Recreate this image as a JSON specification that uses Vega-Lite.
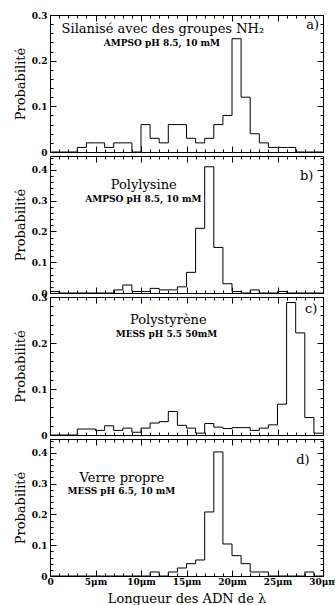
{
  "$schema": "https://vega.github.io/schema/vega-lite/v6.json",
  "padding": {"left": 13, "top": 10, "right": 0, "bottom": 0},
  "bounds": "flush",
  "spacing": 4,
  "datasets": {
    "a": [
      {"lo": 0, "hi": 1, "p": 0}, {"lo": 1, "hi": 2, "p": 0}, {"lo": 2, "hi": 3, "p": 0},
      {"lo": 3, "hi": 4, "p": 0.01}, {"lo": 4, "hi": 5, "p": 0.02}, {"lo": 5, "hi": 6, "p": 0.02},
      {"lo": 6, "hi": 7, "p": 0.01}, {"lo": 7, "hi": 8, "p": 0.02}, {"lo": 8, "hi": 9, "p": 0.02},
      {"lo": 9, "hi": 10, "p": 0}, {"lo": 10, "hi": 11, "p": 0.06}, {"lo": 11, "hi": 12, "p": 0.03},
      {"lo": 12, "hi": 13, "p": 0.02}, {"lo": 13, "hi": 14, "p": 0.06}, {"lo": 14, "hi": 15, "p": 0.06},
      {"lo": 15, "hi": 16, "p": 0.03}, {"lo": 16, "hi": 17, "p": 0.02}, {"lo": 17, "hi": 18, "p": 0.03},
      {"lo": 18, "hi": 19, "p": 0.06}, {"lo": 19, "hi": 20, "p": 0.08}, {"lo": 20, "hi": 21, "p": 0.248},
      {"lo": 21, "hi": 22, "p": 0.12}, {"lo": 22, "hi": 23, "p": 0.04}, {"lo": 23, "hi": 24, "p": 0.02},
      {"lo": 24, "hi": 25, "p": 0.01}, {"lo": 25, "hi": 26, "p": 0.01}, {"lo": 26, "hi": 27, "p": 0.01},
      {"lo": 27, "hi": 28, "p": 0}, {"lo": 28, "hi": 29, "p": 0}, {"lo": 29, "hi": 30, "p": 0}
    ],
    "b": [
      {"lo": 0, "hi": 1, "p": 0.005}, {"lo": 1, "hi": 2, "p": 0}, {"lo": 2, "hi": 3, "p": 0},
      {"lo": 3, "hi": 4, "p": 0}, {"lo": 4, "hi": 5, "p": 0}, {"lo": 5, "hi": 6, "p": 0},
      {"lo": 6, "hi": 7, "p": 0}, {"lo": 7, "hi": 8, "p": 0.01}, {"lo": 8, "hi": 9, "p": 0.026},
      {"lo": 9, "hi": 10, "p": 0.005}, {"lo": 10, "hi": 11, "p": 0.005}, {"lo": 11, "hi": 12, "p": 0.015},
      {"lo": 12, "hi": 13, "p": 0.01}, {"lo": 13, "hi": 14, "p": 0.01}, {"lo": 14, "hi": 15, "p": 0.02},
      {"lo": 15, "hi": 16, "p": 0.067}, {"lo": 16, "hi": 17, "p": 0.21}, {"lo": 17, "hi": 18, "p": 0.41},
      {"lo": 18, "hi": 19, "p": 0.148}, {"lo": 19, "hi": 20, "p": 0.03}, {"lo": 20, "hi": 21, "p": 0.005},
      {"lo": 21, "hi": 22, "p": 0}, {"lo": 22, "hi": 23, "p": 0.01}, {"lo": 23, "hi": 24, "p": 0},
      {"lo": 24, "hi": 25, "p": 0}, {"lo": 25, "hi": 26, "p": 0.005}, {"lo": 26, "hi": 27, "p": 0},
      {"lo": 27, "hi": 28, "p": 0}, {"lo": 28, "hi": 29, "p": 0}, {"lo": 29, "hi": 30, "p": 0}
    ],
    "c": [
      {"lo": 0, "hi": 1, "p": 0}, {"lo": 1, "hi": 2, "p": 0}, {"lo": 2, "hi": 3, "p": 0},
      {"lo": 3, "hi": 4, "p": 0.013}, {"lo": 4, "hi": 5, "p": 0.013}, {"lo": 5, "hi": 6, "p": 0.01},
      {"lo": 6, "hi": 7, "p": 0.02}, {"lo": 7, "hi": 8, "p": 0.01}, {"lo": 8, "hi": 9, "p": 0.015},
      {"lo": 9, "hi": 10, "p": 0.006}, {"lo": 10, "hi": 11, "p": 0.015}, {"lo": 11, "hi": 12, "p": 0.026},
      {"lo": 12, "hi": 13, "p": 0.029}, {"lo": 13, "hi": 14, "p": 0.051}, {"lo": 14, "hi": 15, "p": 0.021},
      {"lo": 15, "hi": 16, "p": 0.015}, {"lo": 16, "hi": 17, "p": 0.004}, {"lo": 17, "hi": 18, "p": 0.025},
      {"lo": 18, "hi": 19, "p": 0.017}, {"lo": 19, "hi": 20, "p": 0.014}, {"lo": 20, "hi": 21, "p": 0.016},
      {"lo": 21, "hi": 22, "p": 0.016}, {"lo": 22, "hi": 23, "p": 0.01}, {"lo": 23, "hi": 24, "p": 0.015},
      {"lo": 24, "hi": 25, "p": 0.022}, {"lo": 25, "hi": 26, "p": 0.067}, {"lo": 26, "hi": 27, "p": 0.288},
      {"lo": 27, "hi": 28, "p": 0.222}, {"lo": 28, "hi": 29, "p": 0.038}, {"lo": 29, "hi": 30, "p": 0.004}
    ],
    "d": [
      {"lo": 0, "hi": 1, "p": 0}, {"lo": 1, "hi": 2, "p": 0}, {"lo": 2, "hi": 3, "p": 0},
      {"lo": 3, "hi": 4, "p": 0}, {"lo": 4, "hi": 5, "p": 0}, {"lo": 5, "hi": 6, "p": 0},
      {"lo": 6, "hi": 7, "p": 0}, {"lo": 7, "hi": 8, "p": 0}, {"lo": 8, "hi": 9, "p": 0},
      {"lo": 9, "hi": 10, "p": 0}, {"lo": 10, "hi": 11, "p": 0}, {"lo": 11, "hi": 12, "p": 0.013},
      {"lo": 12, "hi": 13, "p": 0}, {"lo": 13, "hi": 14, "p": 0.013}, {"lo": 14, "hi": 15, "p": 0.026},
      {"lo": 15, "hi": 16, "p": 0.04}, {"lo": 16, "hi": 17, "p": 0.052}, {"lo": 17, "hi": 18, "p": 0.208},
      {"lo": 18, "hi": 19, "p": 0.403}, {"lo": 19, "hi": 20, "p": 0.104}, {"lo": 20, "hi": 21, "p": 0.066},
      {"lo": 21, "hi": 22, "p": 0.04}, {"lo": 22, "hi": 23, "p": 0.013}, {"lo": 23, "hi": 24, "p": 0.013},
      {"lo": 24, "hi": 25, "p": 0}, {"lo": 25, "hi": 26, "p": 0}, {"lo": 26, "hi": 27, "p": 0},
      {"lo": 27, "hi": 28, "p": 0}, {"lo": 28, "hi": 29, "p": 0.013}, {"lo": 29, "hi": 30, "p": 0}
    ]
  },
  "vconcat": [
    {
      "width": 273, "height": 137,
      "layer": [
        {
          "data": {"name": "a"},
          "transform": [{"fold": ["lo", "hi"], "as": ["edge", "x"]}],
          "mark": {"type": "line", "color": "black", "strokeWidth": 1},
          "encoding": {
            "x": {"field": "x", "type": "quantitative", "scale": {"domain": [0, 30], "nice": false},
                  "axis": {"orient": "bottom", "values": [0, 5, 10, 15, 20, 25, 30], "tickSize": -6, "labels": false, "title": null}},
            "y": {"field": "p", "type": "quantitative", "scale": {"domain": [0, 0.3], "nice": false},
                  "axis": {"orient": "left", "values": [0, 0.1, 0.2, 0.3], "tickSize": -6, "labelPadding": 9,
                           "labelExpr": "datum.value === 0 ? '0' : format(datum.value, '.1f')", "title": "Probabilité"}},
            "order": [{"field": "lo", "type": "quantitative"}, {"field": "x", "type": "quantitative"}]
          }
        },
        {
          "data": {"name": "a"},
          "mark": {"type": "point", "opacity": 0},
          "encoding": {
            "x": {"field": "lo", "type": "quantitative", "scale": {"domain": [0, 30], "nice": false},
                  "axis": {"orient": "bottom", "values": [1, 2, 3, 4, 6, 7, 8, 9, 11, 12, 13, 14, 16, 17, 18, 19, 21, 22, 23, 24, 26, 27, 28, 29], "tickSize": -3, "labels": false, "domain": false, "title": null}},
            "y": {"field": "p", "type": "quantitative", "scale": {"domain": [0, 0.3], "nice": false},
                  "axis": {"orient": "left", "values": [0.02, 0.04, 0.06, 0.08, 0.12, 0.14, 0.16, 0.18, 0.22, 0.24, 0.26, 0.28], "tickSize": -3, "labels": false, "domain": false, "title": null}}
          }
        },
        {
          "data": {"name": "a"},
          "mark": {"type": "point", "opacity": 0},
          "encoding": {
            "x": {"field": "lo", "type": "quantitative", "scale": {"domain": [0, 30], "nice": false},
                  "axis": {"orient": "top", "values": [0, 5, 10, 15, 20, 25, 30], "tickSize": -6, "labels": false, "title": null}},
            "y": {"field": "p", "type": "quantitative", "scale": {"domain": [0, 0.3], "nice": false},
                  "axis": {"orient": "right", "values": [0, 0.1, 0.2, 0.3], "tickSize": -6, "labels": false, "title": null}}
          }
        },
        {
          "data": {"name": "a"},
          "mark": {"type": "point", "opacity": 0},
          "encoding": {
            "x": {"field": "lo", "type": "quantitative", "scale": {"domain": [0, 30], "nice": false},
                  "axis": {"orient": "top", "values": [1, 2, 3, 4, 6, 7, 8, 9, 11, 12, 13, 14, 16, 17, 18, 19, 21, 22, 23, 24, 26, 27, 28, 29], "tickSize": -3, "labels": false, "domain": false, "title": null}},
            "y": {"field": "p", "type": "quantitative", "scale": {"domain": [0, 0.3], "nice": false},
                  "axis": {"orient": "right", "values": [0.02, 0.04, 0.06, 0.08, 0.12, 0.14, 0.16, 0.18, 0.22, 0.24, 0.26, 0.28], "tickSize": -3, "labels": false, "domain": false, "title": null}}
          }
        },
        {
          "data": {"values": [{"t": "Silanisé avec des groupes NH₂"}]},
          "mark": {"type": "text", "font": "DejaVu Serif", "fontSize": 13, "align": "center", "baseline": "alphabetic", "color": "black"},
          "encoding": {
            "x": {"datum": 12.4, "type": "quantitative", "scale": {"domain": [0, 30], "nice": false}, "axis": null},
            "y": {"datum": 0.26, "type": "quantitative", "scale": {"domain": [0, 0.3], "nice": false}, "axis": null},
            "text": {"field": "t"}
          }
        },
        {
          "data": {"values": [{"t": "AMPSO pH 8.5, 10 mM"}]},
          "mark": {"type": "text", "font": "DejaVu Serif", "fontSize": 9, "fontWeight": "bold", "align": "center", "baseline": "alphabetic", "color": "black"},
          "encoding": {
            "x": {"datum": 12.3, "type": "quantitative", "scale": {"domain": [0, 30], "nice": false}, "axis": null},
            "y": {"datum": 0.233, "type": "quantitative", "scale": {"domain": [0, 0.3], "nice": false}, "axis": null},
            "text": {"field": "t"}
          }
        },
        {
          "data": {"values": [{"t": "a)"}]},
          "mark": {"type": "text", "font": "DejaVu Serif", "fontSize": 13, "align": "center", "baseline": "alphabetic", "color": "black"},
          "encoding": {
            "x": {"datum": 28.85, "type": "quantitative", "scale": {"domain": [0, 30], "nice": false}, "axis": null},
            "y": {"datum": 0.269, "type": "quantitative", "scale": {"domain": [0, 0.3], "nice": false}, "axis": null},
            "text": {"field": "t"}
          }
        }
      ],
      "resolve": {"axis": {"x": "independent", "y": "independent"}}
    },
    {
      "width": 273, "height": 137,
      "layer": [
        {
          "data": {"name": "b"},
          "transform": [{"fold": ["lo", "hi"], "as": ["edge", "x"]}],
          "mark": {"type": "line", "color": "black", "strokeWidth": 1},
          "encoding": {
            "x": {"field": "x", "type": "quantitative", "scale": {"domain": [0, 30], "nice": false},
                  "axis": {"orient": "bottom", "values": [0, 5, 10, 15, 20, 25, 30], "tickSize": -6, "labels": false, "title": null}},
            "y": {"field": "p", "type": "quantitative", "scale": {"domain": [0, 0.445], "nice": false},
                  "axis": {"orient": "left", "values": [0, 0.1, 0.2, 0.3, 0.4], "tickSize": -6, "labelPadding": 9,
                           "labelExpr": "datum.value === 0 ? '0' : format(datum.value, '.1f')", "title": "Probabilité"}},
            "order": [{"field": "lo", "type": "quantitative"}, {"field": "x", "type": "quantitative"}]
          }
        },
        {
          "data": {"name": "b"},
          "mark": {"type": "point", "opacity": 0},
          "encoding": {
            "x": {"field": "lo", "type": "quantitative", "scale": {"domain": [0, 30], "nice": false},
                  "axis": {"orient": "bottom", "values": [1, 2, 3, 4, 6, 7, 8, 9, 11, 12, 13, 14, 16, 17, 18, 19, 21, 22, 23, 24, 26, 27, 28, 29], "tickSize": -3, "labels": false, "domain": false, "title": null}},
            "y": {"field": "p", "type": "quantitative", "scale": {"domain": [0, 0.445], "nice": false},
                  "axis": {"orient": "left", "values": [0.02, 0.04, 0.06, 0.08, 0.12, 0.14, 0.16, 0.18, 0.22, 0.24, 0.26, 0.28, 0.32, 0.34, 0.36, 0.38, 0.42, 0.44], "tickSize": -3, "labels": false, "domain": false, "title": null}}
          }
        },
        {
          "data": {"name": "b"},
          "mark": {"type": "point", "opacity": 0},
          "encoding": {
            "x": {"field": "lo", "type": "quantitative", "scale": {"domain": [0, 30], "nice": false},
                  "axis": {"orient": "top", "values": [0, 5, 10, 15, 20, 25, 30], "tickSize": -6, "labels": false, "title": null}},
            "y": {"field": "p", "type": "quantitative", "scale": {"domain": [0, 0.445], "nice": false},
                  "axis": {"orient": "right", "values": [0, 0.1, 0.2, 0.3, 0.4], "tickSize": -6, "labels": false, "title": null}}
          }
        },
        {
          "data": {"name": "b"},
          "mark": {"type": "point", "opacity": 0},
          "encoding": {
            "x": {"field": "lo", "type": "quantitative", "scale": {"domain": [0, 30], "nice": false},
                  "axis": {"orient": "top", "values": [1, 2, 3, 4, 6, 7, 8, 9, 11, 12, 13, 14, 16, 17, 18, 19, 21, 22, 23, 24, 26, 27, 28, 29], "tickSize": -3, "labels": false, "domain": false, "title": null}},
            "y": {"field": "p", "type": "quantitative", "scale": {"domain": [0, 0.445], "nice": false},
                  "axis": {"orient": "right", "values": [0.02, 0.04, 0.06, 0.08, 0.12, 0.14, 0.16, 0.18, 0.22, 0.24, 0.26, 0.28, 0.32, 0.34, 0.36, 0.38, 0.42, 0.44], "tickSize": -3, "labels": false, "domain": false, "title": null}}
          }
        },
        {
          "data": {"values": [{"t": "Polylysine"}]},
          "mark": {"type": "text", "font": "DejaVu Serif", "fontSize": 13, "align": "center", "baseline": "alphabetic", "color": "black"},
          "encoding": {
            "x": {"datum": 10.3, "type": "quantitative", "scale": {"domain": [0, 30], "nice": false}, "axis": null},
            "y": {"datum": 0.338, "type": "quantitative", "scale": {"domain": [0, 0.445], "nice": false}, "axis": null},
            "text": {"field": "t"}
          }
        },
        {
          "data": {"values": [{"t": "AMPSO pH 8.5, 10 mM"}]},
          "mark": {"type": "text", "font": "DejaVu Serif", "fontSize": 9, "fontWeight": "bold", "align": "center", "baseline": "alphabetic", "color": "black"},
          "encoding": {
            "x": {"datum": 10.26, "type": "quantitative", "scale": {"domain": [0, 30], "nice": false}, "axis": null},
            "y": {"datum": 0.294, "type": "quantitative", "scale": {"domain": [0, 0.445], "nice": false}, "axis": null},
            "text": {"field": "t"}
          }
        },
        {
          "data": {"values": [{"t": "b)"}]},
          "mark": {"type": "text", "font": "DejaVu Serif", "fontSize": 13, "align": "center", "baseline": "alphabetic", "color": "black"},
          "encoding": {
            "x": {"datum": 28.2, "type": "quantitative", "scale": {"domain": [0, 30], "nice": false}, "axis": null},
            "y": {"datum": 0.368, "type": "quantitative", "scale": {"domain": [0, 0.445], "nice": false}, "axis": null},
            "text": {"field": "t"}
          }
        }
      ],
      "resolve": {"axis": {"x": "independent", "y": "independent"}}
    },
    {
      "width": 273, "height": 138,
      "layer": [
        {
          "data": {"name": "c"},
          "transform": [{"fold": ["lo", "hi"], "as": ["edge", "x"]}],
          "mark": {"type": "line", "color": "black", "strokeWidth": 1},
          "encoding": {
            "x": {"field": "x", "type": "quantitative", "scale": {"domain": [0, 30], "nice": false},
                  "axis": {"orient": "bottom", "values": [0, 5, 10, 15, 20, 25, 30], "tickSize": -6, "labels": false, "title": null}},
            "y": {"field": "p", "type": "quantitative", "scale": {"domain": [0, 0.3], "nice": false},
                  "axis": {"orient": "left", "values": [0, 0.1, 0.2, 0.3], "tickSize": -6, "labelPadding": 9,
                           "labelExpr": "datum.value === 0 ? '0' : format(datum.value, '.1f')", "title": "Probabilité"}},
            "order": [{"field": "lo", "type": "quantitative"}, {"field": "x", "type": "quantitative"}]
          }
        },
        {
          "data": {"name": "c"},
          "mark": {"type": "point", "opacity": 0},
          "encoding": {
            "x": {"field": "lo", "type": "quantitative", "scale": {"domain": [0, 30], "nice": false},
                  "axis": {"orient": "bottom", "values": [1, 2, 3, 4, 6, 7, 8, 9, 11, 12, 13, 14, 16, 17, 18, 19, 21, 22, 23, 24, 26, 27, 28, 29], "tickSize": -3, "labels": false, "domain": false, "title": null}},
            "y": {"field": "p", "type": "quantitative", "scale": {"domain": [0, 0.3], "nice": false},
                  "axis": {"orient": "left", "values": [0.02, 0.04, 0.06, 0.08, 0.12, 0.14, 0.16, 0.18, 0.22, 0.24, 0.26, 0.28], "tickSize": -3, "labels": false, "domain": false, "title": null}}
          }
        },
        {
          "data": {"name": "c"},
          "mark": {"type": "point", "opacity": 0},
          "encoding": {
            "x": {"field": "lo", "type": "quantitative", "scale": {"domain": [0, 30], "nice": false},
                  "axis": {"orient": "top", "values": [0, 5, 10, 15, 20, 25, 30], "tickSize": -6, "labels": false, "title": null}},
            "y": {"field": "p", "type": "quantitative", "scale": {"domain": [0, 0.3], "nice": false},
                  "axis": {"orient": "right", "values": [0, 0.1, 0.2, 0.3], "tickSize": -6, "labels": false, "title": null}}
          }
        },
        {
          "data": {"name": "c"},
          "mark": {"type": "point", "opacity": 0},
          "encoding": {
            "x": {"field": "lo", "type": "quantitative", "scale": {"domain": [0, 30], "nice": false},
                  "axis": {"orient": "top", "values": [1, 2, 3, 4, 6, 7, 8, 9, 11, 12, 13, 14, 16, 17, 18, 19, 21, 22, 23, 24, 26, 27, 28, 29], "tickSize": -3, "labels": false, "domain": false, "title": null}},
            "y": {"field": "p", "type": "quantitative", "scale": {"domain": [0, 0.3], "nice": false},
                  "axis": {"orient": "right", "values": [0.02, 0.04, 0.06, 0.08, 0.12, 0.14, 0.16, 0.18, 0.22, 0.24, 0.26, 0.28], "tickSize": -3, "labels": false, "domain": false, "title": null}}
          }
        },
        {
          "data": {"values": [{"t": "Polystyrène"}]},
          "mark": {"type": "text", "font": "DejaVu Serif", "fontSize": 13, "align": "center", "baseline": "alphabetic", "color": "black"},
          "encoding": {
            "x": {"datum": 13.0, "type": "quantitative", "scale": {"domain": [0, 30], "nice": false}, "axis": null},
            "y": {"datum": 0.241, "type": "quantitative", "scale": {"domain": [0, 0.3], "nice": false}, "axis": null},
            "text": {"field": "t"}
          }
        },
        {
          "data": {"values": [{"t": "MESS  pH 5.5 50mM"}]},
          "mark": {"type": "text", "font": "DejaVu Serif", "fontSize": 9, "fontWeight": "bold", "align": "center", "baseline": "alphabetic", "color": "black"},
          "encoding": {
            "x": {"datum": 12.8, "type": "quantitative", "scale": {"domain": [0, 30], "nice": false}, "axis": null},
            "y": {"datum": 0.212, "type": "quantitative", "scale": {"domain": [0, 0.3], "nice": false}, "axis": null},
            "text": {"field": "t"}
          }
        },
        {
          "data": {"values": [{"t": "c)"}]},
          "mark": {"type": "text", "font": "DejaVu Serif", "fontSize": 13, "align": "center", "baseline": "alphabetic", "color": "black"},
          "encoding": {
            "x": {"datum": 28.7, "type": "quantitative", "scale": {"domain": [0, 30], "nice": false}, "axis": null},
            "y": {"datum": 0.266, "type": "quantitative", "scale": {"domain": [0, 0.3], "nice": false}, "axis": null},
            "text": {"field": "t"}
          }
        }
      ],
      "resolve": {"axis": {"x": "independent", "y": "independent"}}
    },
    {
      "width": 273, "height": 137,
      "layer": [
        {
          "data": {"name": "d"},
          "transform": [{"fold": ["lo", "hi"], "as": ["edge", "x"]}],
          "mark": {"type": "line", "color": "black", "strokeWidth": 1},
          "encoding": {
            "x": {"field": "x", "type": "quantitative", "scale": {"domain": [0, 30], "nice": false},
                  "axis": {"orient": "bottom", "values": [0, 5, 10, 15, 20, 25, 30], "tickSize": -6, "labelPadding": 7, "titlePadding": 6,
                           "labelExpr": "datum.value === 0 ? '0' : datum.value + 'μm'", "title": "Longueur des ADN de λ"}},
            "y": {"field": "p", "type": "quantitative", "scale": {"domain": [0, 0.445], "nice": false},
                  "axis": {"orient": "left", "values": [0, 0.1, 0.2, 0.3, 0.4], "tickSize": -6, "labelPadding": 9,
                           "labelExpr": "datum.value === 0 ? '0' : format(datum.value, '.1f')", "title": "Probabilité"}},
            "order": [{"field": "lo", "type": "quantitative"}, {"field": "x", "type": "quantitative"}]
          }
        },
        {
          "data": {"name": "d"},
          "mark": {"type": "point", "opacity": 0},
          "encoding": {
            "x": {"field": "lo", "type": "quantitative", "scale": {"domain": [0, 30], "nice": false},
                  "axis": {"orient": "bottom", "values": [1, 2, 3, 4, 6, 7, 8, 9, 11, 12, 13, 14, 16, 17, 18, 19, 21, 22, 23, 24, 26, 27, 28, 29], "tickSize": -3, "labels": false, "domain": false, "title": null}},
            "y": {"field": "p", "type": "quantitative", "scale": {"domain": [0, 0.445], "nice": false},
                  "axis": {"orient": "left", "values": [0.02, 0.04, 0.06, 0.08, 0.12, 0.14, 0.16, 0.18, 0.22, 0.24, 0.26, 0.28, 0.32, 0.34, 0.36, 0.38, 0.42, 0.44], "tickSize": -3, "labels": false, "domain": false, "title": null}}
          }
        },
        {
          "data": {"name": "d"},
          "mark": {"type": "point", "opacity": 0},
          "encoding": {
            "x": {"field": "lo", "type": "quantitative", "scale": {"domain": [0, 30], "nice": false},
                  "axis": {"orient": "top", "values": [0, 5, 10, 15, 20, 25, 30], "tickSize": -6, "labels": false, "title": null}},
            "y": {"field": "p", "type": "quantitative", "scale": {"domain": [0, 0.445], "nice": false},
                  "axis": {"orient": "right", "values": [0, 0.1, 0.2, 0.3, 0.4], "tickSize": -6, "labels": false, "title": null}}
          }
        },
        {
          "data": {"name": "d"},
          "mark": {"type": "point", "opacity": 0},
          "encoding": {
            "x": {"field": "lo", "type": "quantitative", "scale": {"domain": [0, 30], "nice": false},
                  "axis": {"orient": "top", "values": [1, 2, 3, 4, 6, 7, 8, 9, 11, 12, 13, 14, 16, 17, 18, 19, 21, 22, 23, 24, 26, 27, 28, 29], "tickSize": -3, "labels": false, "domain": false, "title": null}},
            "y": {"field": "p", "type": "quantitative", "scale": {"domain": [0, 0.445], "nice": false},
                  "axis": {"orient": "right", "values": [0.02, 0.04, 0.06, 0.08, 0.12, 0.14, 0.16, 0.18, 0.22, 0.24, 0.26, 0.28, 0.32, 0.34, 0.36, 0.38, 0.42, 0.44], "tickSize": -3, "labels": false, "domain": false, "title": null}}
          }
        },
        {
          "data": {"values": [{"t": "Verre propre"}]},
          "mark": {"type": "text", "font": "DejaVu Serif", "fontSize": 13, "align": "center", "baseline": "alphabetic", "color": "black"},
          "encoding": {
            "x": {"datum": 7.9, "type": "quantitative", "scale": {"domain": [0, 30], "nice": false}, "axis": null},
            "y": {"datum": 0.305, "type": "quantitative", "scale": {"domain": [0, 0.445], "nice": false}, "axis": null},
            "text": {"field": "t"}
          }
        },
        {
          "data": {"values": [{"t": "MESS pH 6.5, 10 mM"}]},
          "mark": {"type": "text", "font": "DejaVu Serif", "fontSize": 9, "fontWeight": "bold", "align": "center", "baseline": "alphabetic", "color": "black"},
          "encoding": {
            "x": {"datum": 7.85, "type": "quantitative", "scale": {"domain": [0, 30], "nice": false}, "axis": null},
            "y": {"datum": 0.267, "type": "quantitative", "scale": {"domain": [0, 0.445], "nice": false}, "axis": null},
            "text": {"field": "t"}
          }
        },
        {
          "data": {"values": [{"t": "d)"}]},
          "mark": {"type": "text", "font": "DejaVu Serif", "fontSize": 13, "align": "center", "baseline": "alphabetic", "color": "black"},
          "encoding": {
            "x": {"datum": 27.8, "type": "quantitative", "scale": {"domain": [0, 30], "nice": false}, "axis": null},
            "y": {"datum": 0.363, "type": "quantitative", "scale": {"domain": [0, 0.445], "nice": false}, "axis": null},
            "text": {"field": "t"}
          }
        }
      ],
      "resolve": {"axis": {"x": "independent", "y": "independent"}}
    }
  ],
  "config": {
    "view": {"stroke": "black", "strokeWidth": 1},
    "axis": {
      "grid": false,
      "domainColor": "black", "domainWidth": 1,
      "tickColor": "black", "tickWidth": 1,
      "labelFont": "DejaVu Serif", "labelFontWeight": "bold", "labelFontSize": 9, "labelColor": "black",
      "titleFont": "DejaVu Serif", "titleFontWeight": "normal", "titleFontSize": 13, "titleColor": "black",
      "labelOverlap": false, "labelBound": false, "labelFlush": false
    }
  }
}
